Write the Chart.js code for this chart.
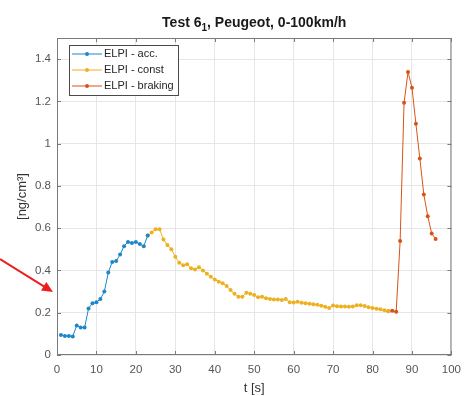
<!DOCTYPE html>
<html>
<head>
<meta charset="utf-8">
<script src="https://cdn.jsdelivr.net/npm/chart.js@4.4.0/dist/chart.umd.min.js"></script>
<style>
  html, body { margin: 0; padding: 0; background: #fff; }
  #chart { display: block; }
</style>
</head>
<body>
<canvas id="chart" width="469" height="396"></canvas>
<script>
// data (t in s, concentration in ng/cm3)
const tAcc = [1, 2, 3, 4, 5, 6, 7, 8, 9, 10, 11, 12, 13, 14, 15, 16, 17, 18, 19, 20, 21, 22, 23];
const accValues = [0.095, 0.09, 0.09, 0.088, 0.14, 0.13, 0.13, 0.22, 0.245, 0.25, 0.265, 0.30,
  0.39, 0.44, 0.445, 0.475, 0.515, 0.535, 0.53, 0.535, 0.525, 0.515, 0.565];

const tConst = [23, 24, 25, 26, 27, 28, 29, 30, 31, 32, 33, 34, 35, 36, 37, 38, 39, 40, 41, 42,
  43, 44, 45, 46, 47, 48, 49, 50, 51, 52, 53, 54, 55, 56, 57, 58, 59, 60, 61, 62, 63, 64, 65,
  66, 67, 68, 69, 70, 71, 72, 73, 74, 75, 76, 77, 78, 79, 80, 81, 82, 83, 84];
const constValues = [0.565, 0.58, 0.595, 0.595, 0.547, 0.52, 0.50, 0.465, 0.437, 0.425, 0.43,
  0.41, 0.405, 0.415, 0.40, 0.385, 0.37, 0.357, 0.347, 0.34, 0.326, 0.307, 0.29, 0.276, 0.276,
  0.295, 0.29, 0.284, 0.273, 0.276, 0.268, 0.265, 0.263, 0.263, 0.26, 0.265, 0.25, 0.249, 0.252,
  0.247, 0.245, 0.243, 0.240, 0.238, 0.233, 0.228, 0.222, 0.234, 0.231, 0.230, 0.229, 0.228,
  0.229, 0.235, 0.236, 0.232, 0.226, 0.222, 0.219, 0.216, 0.212, 0.207];

const tBrake = [84, 85, 86, 87, 88, 89, 90, 91, 92, 93, 94, 95, 96];
const brakeValues = [0.207, 0.209, 0.205, 0.54, 1.194, 1.339, 1.265, 1.094, 0.93, 0.76, 0.657,
  0.575, 0.549];

const seriesLabels = ['ELPI - acc.', 'ELPI - const', 'ELPI - braking'];
const seriesColors = ['#1f86c8', '#edb120', '#d95319'];
const xTicks = [0, 10, 20, 30, 40, 50, 60, 70, 80, 90, 100];
const yTicks = [0, 0.2, 0.4, 0.6, 0.8, 1, 1.2, 1.4];

const FONT = '"Liberation Sans", Arial, sans-serif';
const AXIS_COLOR = '#7a7a7a';

function toPoints(xs, ys) {
  return xs.map((x, i) => ({ x: x, y: ys[i] }));
}

// title with subscript, matlab style box, inner ticks, legend and the red arrow
const decorations = {
  id: 'decorations',
  afterDraw(chart) {
    const ctx = chart.ctx;
    const a = chart.chartArea;
    const xs = chart.scales.x, ys = chart.scales.y;
    ctx.save();

    // box
    ctx.strokeStyle = AXIS_COLOR;
    ctx.lineWidth = 1;
    ctx.strokeRect(a.left + 0.5, a.top + 0.5, a.right - a.left - 1, a.bottom - a.top - 1);

    // inner ticks on all four sides
    ctx.beginPath();
    xTicks.forEach(v => {
      const px = Math.round(xs.getPixelForValue(v)) + 0.5;
      ctx.moveTo(px, a.bottom); ctx.lineTo(px, a.bottom - 4);
      ctx.moveTo(px, a.top); ctx.lineTo(px, a.top + 4);
    });
    yTicks.forEach(v => {
      const py = Math.round(ys.getPixelForValue(v)) + 0.5;
      ctx.moveTo(a.left, py); ctx.lineTo(a.left + 4, py);
      ctx.moveTo(a.right, py); ctx.lineTo(a.right - 4, py);
    });
    ctx.stroke();

    // title
    ctx.fillStyle = '#1a1a1a';
    ctx.textBaseline = 'alphabetic';
    const big = 'bold 14px ' + FONT, small = 'bold 10px ' + FONT;
    const p1 = 'Test 6', sub = '1', p2 = ', Peugeot, 0-100km/h';
    ctx.font = big; const w1 = ctx.measureText(p1).width, w3 = ctx.measureText(p2).width;
    ctx.font = small; const w2 = ctx.measureText(sub).width;
    let tx = (a.left + a.right) / 2 - (w1 + w2 + w3) / 2;
    const ty = 27;
    ctx.font = big; ctx.fillText(p1, tx, ty); tx += w1;
    ctx.font = small; ctx.fillText(sub, tx, ty + 4); tx += w2;
    ctx.font = big; ctx.fillText(p2, tx, ty);

    // legend
    const lx = 69, ly = 45, lw = 109, lh = 50;
    ctx.fillStyle = '#fff';
    ctx.fillRect(lx, ly, lw, lh);
    ctx.strokeStyle = '#4a4a4a';
    ctx.strokeRect(lx + 0.5, ly + 0.5, lw, lh);
    ctx.font = '11px ' + FONT;
    ctx.textBaseline = 'middle';
    chart.data.datasets.forEach((ds, i) => {
      const y = ly + 9 + i * 16;
      ctx.strokeStyle = ds.borderColor;
      ctx.lineWidth = 1;
      ctx.beginPath(); ctx.moveTo(lx + 3, y); ctx.lineTo(lx + 33, y); ctx.stroke();
      ctx.fillStyle = ds.borderColor;
      ctx.beginPath(); ctx.arc(lx + 18, y, 2, 0, Math.PI * 2); ctx.fill();
      ctx.fillStyle = '#262626';
      ctx.fillText(ds.label, lx + 35, y);
    });

    // red annotation arrow on the left
    ctx.strokeStyle = '#ee1c1c';
    ctx.fillStyle = '#ee1c1c';
    ctx.lineWidth = 2;
    const x0 = 0, y0 = 259, x1 = 53, y1 = 292;
    const ang = Math.atan2(y1 - y0, x1 - x0);
    ctx.beginPath();
    ctx.moveTo(x0, y0);
    ctx.lineTo(x1 - 6 * Math.cos(ang), y1 - 6 * Math.sin(ang));
    ctx.stroke();
    ctx.beginPath();
    ctx.moveTo(x1, y1);
    ctx.lineTo(x1 - 11 * Math.cos(ang) + 5 * Math.sin(ang), y1 - 11 * Math.sin(ang) - 5 * Math.cos(ang));
    ctx.lineTo(x1 - 11 * Math.cos(ang) - 5 * Math.sin(ang), y1 - 11 * Math.sin(ang) + 5 * Math.cos(ang));
    ctx.closePath();
    ctx.fill();

    ctx.restore();
  }
};

const datasets = [
  toPoints(tAcc, accValues),
  toPoints(tConst, constValues),
  toPoints(tBrake, brakeValues)
].map((pts, i) => ({
  label: seriesLabels[i],
  data: pts,
  borderColor: seriesColors[i],
  backgroundColor: seriesColors[i],
  borderWidth: 1,
  pointRadius: 2,
  pointBorderWidth: 0,
  pointHoverRadius: 2,
  tension: 0,
  fill: false
}));

new Chart(document.getElementById('chart').getContext('2d'), {
  type: 'line',
  data: { datasets: datasets },
  options: {
    responsive: false,
    animation: false,
    events: [],
    layout: { padding: { top: 38, right: 10, left: 0, bottom: 0 } },
    plugins: {
      legend: { display: false },
      title: { display: false },
      tooltip: { enabled: false }
    },
    scales: {
      x: {
        type: 'linear',
        min: 0,
        max: 100,
        afterFit: s => { s.height = 41; },
        afterBuildTicks: s => { s.ticks = xTicks.map(v => ({ value: v })); },
        grid: { color: '#e6e6e6', drawTicks: false },
        border: { display: false },
        ticks: { color: '#555', font: { family: FONT, size: 11.5 }, padding: 8, maxRotation: 0 },
        title: { display: true, text: 't [s]', color: '#333', font: { family: FONT, size: 13 }, padding: { top: 2, bottom: 0 } }
      },
      y: {
        type: 'linear',
        min: 0,
        max: 1.5,
        afterFit: s => { s.width = 57; },
        afterBuildTicks: s => { s.ticks = yTicks.map(v => ({ value: v })); },
        grid: { color: '#e6e6e6', drawTicks: false },
        border: { display: false },
        ticks: { color: '#555', font: { family: FONT, size: 11.5 }, padding: 6, callback: v => String(v) },
        title: { display: true, text: '[ng/cm³]', color: '#333', font: { family: FONT, size: 13 }, padding: { top: 15, bottom: 0 } }
      }
    }
  },
  plugins: [decorations]
});
</script>
</body>
</html>
